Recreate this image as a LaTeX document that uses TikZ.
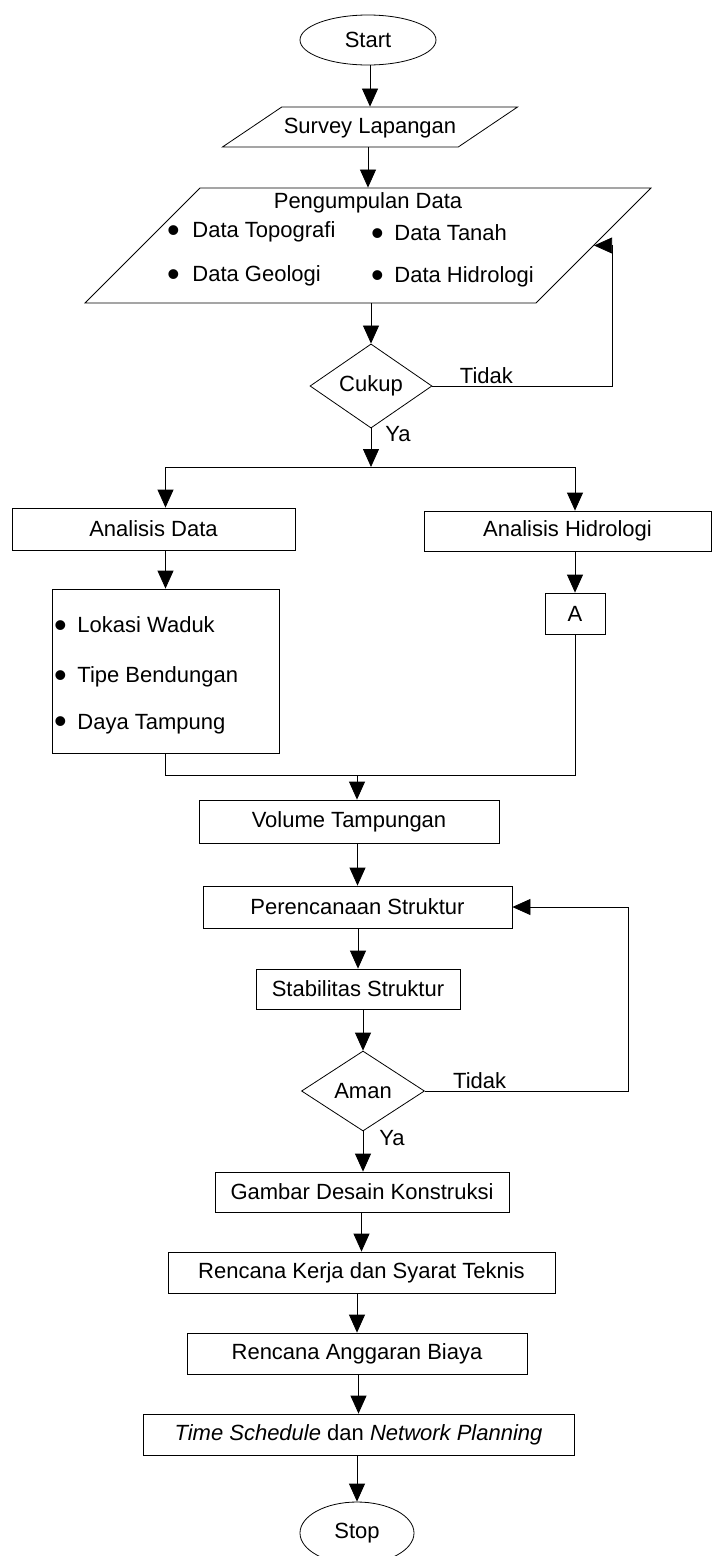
\documentclass[tikz,border=0pt]{standalone}
\usepackage{fontspec}
\setmainfont{Liberation Sans}
\usetikzlibrary{arrows.meta,shapes.geometric}
\newcommand{\blt}{\raisebox{-4.5pt}{\fontsize{36}{36}\selectfont\textbullet}}

\begin{document}
\begin{tikzpicture}[x=1pt,y=-1pt,font=\fontsize{22}{26}\selectfont,
  line width=0.8pt,>={Triangle[width=16pt,length=18pt]}]
  \tikzstyle{term}=[draw,ellipse,inner sep=0pt]
  \tikzstyle{io}=[draw,trapezium,trapezium stretches body,inner sep=2pt]
  \tikzstyle{proc}=[draw,rectangle,inner sep=2pt]
  \tikzstyle{decision}=[draw,diamond,inner sep=0pt]
  \tikzstyle{bulitem}=[anchor=west,inner sep=0pt]
  \tikzstyle{lbl}=[inner sep=2pt]
  \useasboundingbox (0,0) rectangle (714,1556);

  \node[term,minimum width=136pt,minimum height=50pt] (start) at (368,40) {Start};
  \node[io,trapezium left angle=34,trapezium right angle=146,text height=24pt,text depth=12pt,
    minimum width=294pt] (survey) at (370,127) {Survey Lapangan};
  \node[io,trapezium left angle=45,trapezium right angle=135,text height=111pt,text depth=0pt,
    minimum width=566pt] (data) at (368,245.5) {};
  \node (judul) at (368,203) {Pengumpulan Data};
  \node[bulitem] (topo) at (166.7,232) {\blt\hspace{12.7pt}Data Topografi};
  \node[bulitem] (tanah) at (370.7,235) {\blt\hspace{10.7pt}Data Tanah};
  \node[bulitem] (geo) at (166.7,276) {\blt\hspace{12.7pt}Data Geologi};
  \node[bulitem] (hidro) at (370.7,277) {\blt\hspace{10.7pt}Data Hidrologi};
  \node[decision,minimum width=122pt,minimum height=82pt] (cukup) at (371,386) {Cukup};
  \coordinate (split) at (371,467);

  % cabang kiri dan kanan
  \node[proc,minimum width=283pt,minimum height=42pt] (anadata) at (153.5,529) {Analisis Data};
  \node[proc,minimum width=287pt,minimum height=40pt] (anahidro) at (567.5,531) {Analisis Hidrologi};
  \node[proc,minimum width=227pt,minimum height=164pt] (hasil) at (165.5,671) {};
  \node[bulitem] (lokasi) at (53.7,627) {\blt\hspace{10.7pt}Lokasi Waduk};
  \node[bulitem] (tipe) at (53.7,677) {\blt\hspace{10.7pt}Tipe Bendungan};
  \node[bulitem] (daya) at (53.7,724) {\blt\hspace{10.7pt}Daya Tampung};
  \node[proc,minimum width=60pt,minimum height=41pt] (A) at (575,613.5) {A};
  \coordinate (merge) at (357,775);

  \node[proc,minimum width=300pt,minimum height=43pt] (volume) at (349,821.5) {Volume Tampungan};
  \node[proc,minimum width=309pt,minimum height=42pt] (struktur) at (357.5,907) {Perencanaan Struktur};
  \node[proc,minimum width=204pt,minimum height=40pt] (stabil) at (358,989) {Stabilitas Struktur};
  \node[decision,minimum width=123pt,minimum height=80pt] (aman) at (363,1091) {Aman};
  \node[proc,minimum width=294pt,minimum height=40pt] (gambar) at (362,1192) {Gambar Desain Konstruksi};
  \node[proc,minimum width=387pt,minimum height=41pt] (rks) at (361.5,1272.5) {Rencana Kerja dan Syarat Teknis};
  \node[proc,minimum width=340pt,minimum height=41pt] (rab) at (357,1353.5) {Rencana Anggaran Biaya};
  \node[proc,minimum width=431pt,minimum height=41pt] (jadwal) at (358.5,1434.5)
    {\textit{Time Schedule} dan \textit{Network Planning}};
  \node[term,minimum width=114pt,minimum height=62pt] (stop) at (357,1533) {Stop};

  \foreach \u/\v in {start/survey,survey/data,data/cukup,volume/struktur,struktur/stabil,
    stabil/aman,gambar/rks,rks/rab,rab/jadwal,jadwal/stop}
    \draw[->] (\v.north |- \u.south) -- (\v.north);

  \draw[->] (cukup.south) -- node[lbl,right=12pt,pos=.15] {Ya} (split);
  \draw[->] (split) -| (anadata.north -| hasil.north);
  \draw[->] (split) -| (anahidro.north -| A.north);
  \draw[->] (anadata.south -| hasil.north) -- (hasil.north);
  \draw[->] (anahidro.south -| A.north) -- (A.north);
  \draw (hasil.south) |- (merge) -| (A.south);
  \draw[->] (merge) -- (merge |- volume.north);
  \draw[->] (cukup.east) -- node[lbl,above,pos=.3] {Tidak} ++(180,0) |- (data.east);
  \draw[->] (aman.east) -- node[lbl,above,pos=.27] {Tidak} ++(203,0) |- (struktur.east);
  \draw[->] (aman.south) -- node[lbl,right=14pt,pos=.17] {Ya} (aman.south |- gambar.north);
\end{tikzpicture}
\end{document}
